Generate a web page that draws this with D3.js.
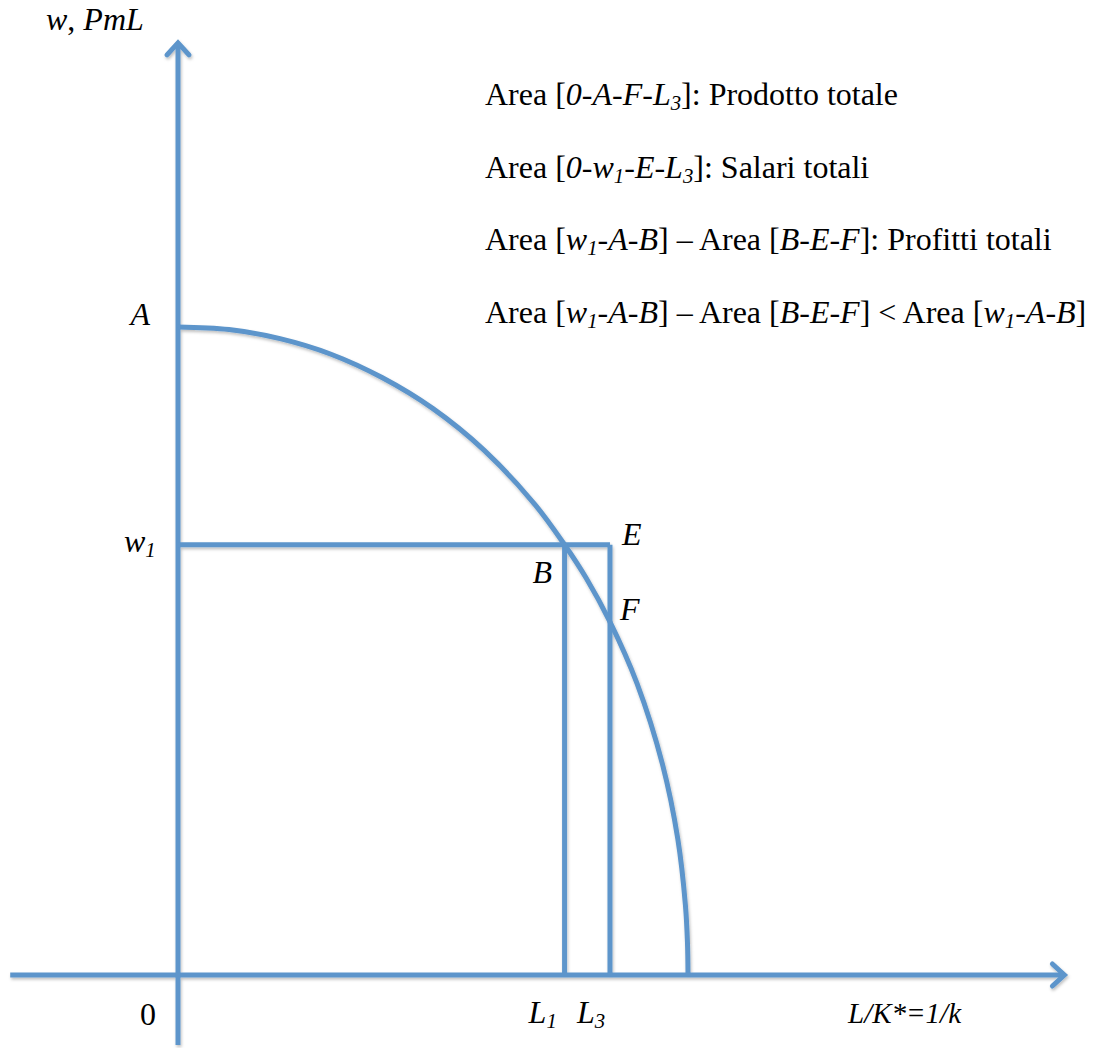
<html>
<head>
    <script src="https://cdnjs.cloudflare.com/ajax/libs/d3/7.8.5/d3.min.js"></script>
    <style>
        body { margin: 0; background: #fff; }
        text { fill: #000; }
    </style>
</head>
<body>
    <script>
        // curva della produttivita' marginale del lavoro
        var curveL   = [0, 1, 2, 3, 4, 5, 6, 7, 7.58, 8, 8.47, 9, 9.5, 9.8, 9.95, 9.99, 10];
        var curvePmL = [10, 9.96, 9.82, 9.58, 9.22, 8.74, 8.10, 7.26, 6.64, 6.13, 5.45, 4.50, 3.25, 2.10, 1.07, 0.49, 0];

        var w1 = 6.64;
        var L1 = 7.58;
        var L3 = 8.47;

        var legendLines = [
            [["Area [", ""], ["0-A-F-L", "i"], ["3", "si"], ["]: Prodotto totale", ""]],
            [["Area [", ""], ["0-w", "i"], ["1", "si"], ["-E-L", "i"], ["3", "si"], ["]: Salari totali", ""]],
            [["Area [", ""], ["w", "i"], ["1", "si"], ["-A-B", "i"], ["] \u2013 Area [", ""], ["B-E-F", "i"], ["]: Profitti totali", ""]],
            [["Area [", ""], ["w", "i"], ["1", "si"], ["-A-B", "i"], ["] \u2013 Area [", ""], ["B-E-F", "i"], ["] < Area [", ""], ["w", "i"], ["1", "si"], ["-A-B", "i"], ["]", ""]]
        ];

        var width = 1100;
        var height = 1048;
        var blue = "#5d95cb";

        var svg = d3.select("body").append("svg")
            .attr("width", width)
            .attr("height", height);

        var defs = svg.append("defs");
        var filter = defs.append("filter").attr("id", "shadow")
            .attr("x", "-10%").attr("y", "-10%").attr("width", "120%").attr("height", "120%");
        filter.append("feDropShadow")
            .attr("dx", 1).attr("dy", 2).attr("stdDeviation", 1.5)
            .attr("flood-color", "#000").attr("flood-opacity", 0.25);

        var x = d3.scaleLinear().domain([0, 10]).range([178, 688]);
        var y = d3.scaleLinear().domain([0, 10]).range([975, 327]);

        var g = svg.append("g").attr("filter", "url(#shadow)");

        function seg(x1, y1, x2, y2) {
            g.append("line")
                .attr("x1", x(x1)).attr("y1", y(y1))
                .attr("x2", x(x2)).attr("y2", y(y2))
                .attr("stroke", blue)
                .attr("stroke-width", 5);
        }

        // assi
        seg(-3.29, 0, 17.35, 0);
        seg(0, -1.08, 0, 14.35);

        // punte delle frecce
        var head = 11;
        g.append("path")
            .attr("d", "M" + (x(0) - head) + "," + (y(14.4) + head + 2) + "L" + x(0) + "," + (y(14.4) + 1) + "L" + (x(0) + head) + "," + (y(14.4) + head + 2))
            .attr("fill", "none").attr("stroke", blue).attr("stroke-width", 5)
            .attr("stroke-linecap", "round").attr("stroke-linejoin", "miter");
        g.append("path")
            .attr("d", "M" + (x(17.4) - head - 2) + "," + (y(0) - head) + "L" + (x(17.4) - 1) + "," + y(0) + "L" + (x(17.4) - head - 2) + "," + (y(0) + head))
            .attr("fill", "none").attr("stroke", blue).attr("stroke-width", 5)
            .attr("stroke-linecap", "round").attr("stroke-linejoin", "miter");

        // salario e occupazione
        seg(0, w1, L3, w1);
        seg(L1, w1, L1, 0);
        seg(L3, w1, L3, 0);

        // curva PmL
        var line = d3.line()
            .x(function (d, i) { return x(curveL[i]); })
            .y(function (d, i) { return y(curvePmL[i]); })
            .curve(d3.curveCatmullRom.alpha(0.5));

        g.append("path")
            .datum(curveL)
            .attr("d", line)
            .attr("fill", "none")
            .attr("stroke", blue)
            .attr("stroke-width", 5);

        // etichette
        var fs = 32;

        function label(px, py, parts, anchor, size) {
            var f = size || fs;
            var t = svg.append("text")
                .attr("x", px).attr("y", py)
                .attr("font-family", "'Liberation Serif', 'Times New Roman', Times, serif")
                .attr("font-size", f)
                .attr("text-anchor", anchor || "start");
            var shifted = false;
            parts.forEach(function (p) {
                var s = t.append("tspan").text(p[0]);
                if (p[1].indexOf("i") >= 0) s.attr("font-style", "italic");
                if (p[1].indexOf("s") >= 0) {
                    s.attr("font-size", f * 0.65).attr("dy", 5);
                    shifted = true;
                } else if (shifted) {
                    s.attr("dy", -5);
                    shifted = false;
                }
            });
            return t;
        }

        label(46, 30, [["w", "i"], [", ", ""], ["PmL", "i"]]);
        label(x(0) - 28, y(10) - 2, [["A", "i"]], "end");
        label(x(0) - 54, y(w1) + 7, [["w", "i"], ["1", "si"]]);
        label(x(L3) + 12, y(w1), [["E", "i"]]);
        label(x(L1) - 32, y(w1) + 38, [["B", "i"]]);
        label(x(L3) + 10, y(w1) + 75, [["F", "i"]]);
        label(x(0) - 22, y(0) + 50, [["0", ""]], "end");
        label(x(L1) - 36, y(0) + 48, [["L", "i"], ["1", "si"]]);
        label(x(L3) - 33, y(0) + 48, [["L", "i"], ["3", "si"]]);
        label(848, y(0) + 48, [["L/K*=1/k", "i"]], "start", 29);

        var baselines = [105, 178, 250, 323];
        legendLines.forEach(function (parts, i) {
            label(485, baselines[i], parts);
        });
    </script>
</body>
</html>
